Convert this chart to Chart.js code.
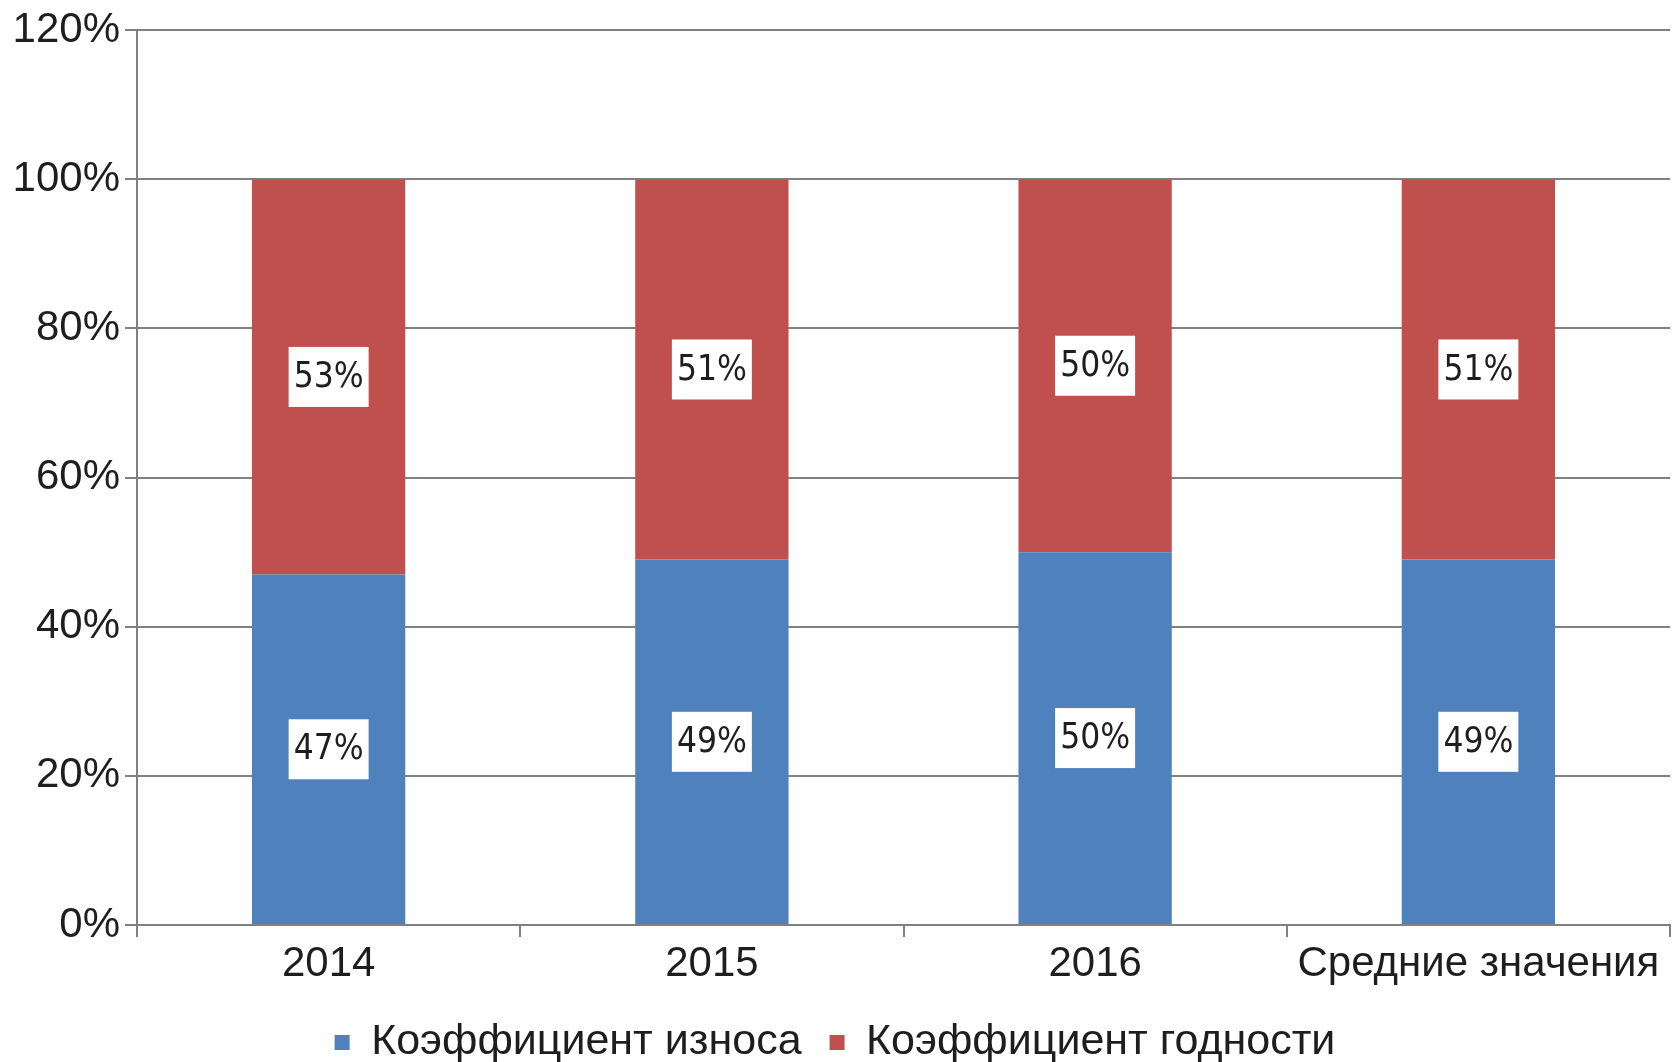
<!DOCTYPE html>
<html>
<head>
<meta charset="utf-8">
<script src="https://cdn.jsdelivr.net/npm/chart.js@4/dist/chart.umd.min.js"></script>
<style>
  html, body { margin: 0; padding: 0; background: #ffffff; }
  #wrap { width: 1675px; height: 1062px; }
</style>
</head>
<body>
<div id="wrap"><canvas id="c" width="1675" height="1062"></canvas></div>
<script>
const categories = ['2014', '2015', '2016', 'Средние значения'];
const wearLabel = 'Коэффициент износа';
const fitLabel = 'Коэффициент годности';
const wearValues = [47, 49, 50, 49];
const fitValues = [53, 51, 50, 51];
const yTicks = [0, 20, 40, 60, 80, 100, 120];

const GRID = '#808080';
const TEXT = '#1e1e1e';

const boxLabels = {
  id: 'boxLabels',
  afterDatasetsDraw(chart) {
    const ctx = chart.ctx;
    ctx.save();
    ctx.font = '35px "DejaVu Sans Condensed", "DejaVu Sans", sans-serif';
    ctx.textAlign = 'center';
    ctx.textBaseline = 'middle';
    chart.data.datasets.forEach((ds, di) => {
      const meta = chart.getDatasetMeta(di);
      meta.data.forEach((el, i) => {
        const cy = (el.y + el.base) / 2;
        const txt = ds.data[i] + '%';
        const w = ctx.measureText(txt).width + 10;
        const h = 60;
        ctx.fillStyle = '#ffffff';
        ctx.fillRect(el.x - w / 2, cy - h / 2, w, h);
        ctx.fillStyle = TEXT;
        ctx.fillText(txt, el.x, cy + 1);
      });
    });
    ctx.restore();
  }
};

new Chart(document.getElementById('c'), {
  type: 'bar',
  data: {
    labels: categories,
    datasets: [
      { label: wearLabel, data: wearValues, backgroundColor: '#4F81BD', borderWidth: 0 },
      { label: fitLabel, data: fitValues, backgroundColor: '#C0504D', borderWidth: 0 }
    ]
  },
  options: {
    responsive: false,
    animation: false,
    devicePixelRatio: 1,
    layout: { padding: { top: 7, right: 5, left: 0, bottom: -12 } },
    datasets: { bar: { categoryPercentage: 1.0, barPercentage: 0.4 } },
    plugins: {
      tooltip: { enabled: false },
      legend: {
        position: 'bottom',
        labels: {
          color: TEXT,
          font: { family: '"Liberation Sans", Arial, sans-serif', size: 43 },
          boxWidth: 15,
          boxHeight: 15,
          padding: 28
        }
      }
    },
    scales: {
      x: {
        stacked: true,
        offset: true,
        grid: {
          display: true,
          drawOnChartArea: false,
          drawTicks: true,
          tickLength: 12,
          color: GRID,
          lineWidth: 2,
          offset: true
        },
        border: { display: true, color: GRID, width: 2 },
        ticks: {
          color: TEXT,
          font: { family: '"Liberation Sans", Arial, sans-serif', size: 42 },
          padding: 2,
          maxRotation: 0,
          autoSkip: false
        },
        afterFit(scale) { scale.height = 68; }
      },
      y: {
        stacked: true,
        min: yTicks[0],
        max: yTicks[yTicks.length - 1],
        afterBuildTicks(scale) { scale.ticks = yTicks.map(v => ({ value: v })); },
        grid: {
          color: GRID,
          lineWidth: 2,
          tickLength: 12,
          drawTicks: true
        },
        border: { display: true, color: GRID, width: 2 },
        ticks: {
          color: TEXT,
          font: { family: '"Liberation Sans", Arial, sans-serif', size: 42 },
          padding: 5,
          callback: v => v + '%'
        },
        afterFit(scale) { scale.width = 137; }
      }
    }
  },
  plugins: [boxLabels]
});
</script>
</body>
</html>
